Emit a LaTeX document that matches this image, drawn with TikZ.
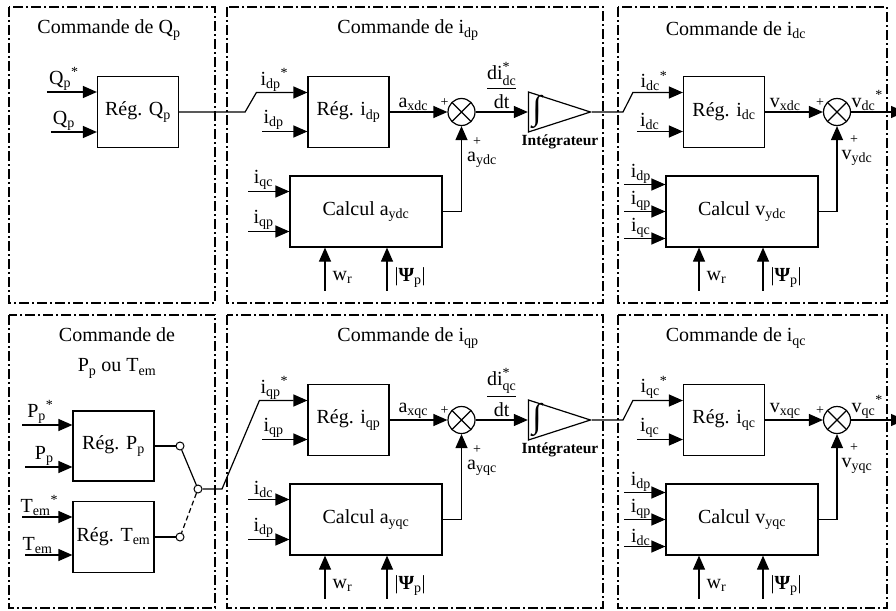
\documentclass[tikz,border=0pt]{standalone}
\usepackage{fontspec}
\setmainfont{Liberation Serif}
\usepackage{amsmath}
\usetikzlibrary{arrows.meta, positioning, calc, shapes.geometric}

\newcommand{\sbs}[1]{\textsubscript{#1}}
\newcommand{\sps}[1]{\textsuperscript{#1}}

\begin{document}
\begin{tikzpicture}[
    x=1pt, y=-1pt,
    font=\fontsize{20}{24}\selectfont,
    frame/.style={line width=1.2pt, dash pattern=on 10pt off 3pt on 2pt off 3pt},
    box/.style={draw, line width=1.2pt, inner sep=0pt, align=center},
    regbox/.style={box, minimum width=81pt, minimum height=71pt},
    calcbox/.style={box, minimum width=152pt, minimum height=71pt},
    sumnode/.style={draw, circle, line width=1.2pt, minimum size=27pt, inner sep=0pt,
      path picture={\draw[line width=1.2pt] (path picture bounding box.north west) -- (path picture bounding box.south east)
        (path picture bounding box.south west) -- (path picture bounding box.north east);}},
    integ/.style={draw, isosceles triangle, isosceles triangle stretches, minimum width=40pt, minimum height=62pt, inner sep=0pt, line width=1.2pt},
    pin/.style={draw, circle, fill=white, minimum size=8pt, inner sep=0pt, line width=1pt},
    lbl/.style={inner sep=0pt},
    sgn/.style={inner sep=0pt, font=\fontsize{14}{14}\selectfont},
    arrow/.style={-{Triangle[length=14pt, width=12pt]}, line width=1.2pt},
    wire/.style={line width=1.2pt}
  ]
  \useasboundingbox (0,0) rectangle (896,610);

  % cadres
  \foreach \ya/\yb in {7/303, 315/608} {
    \draw[frame] (9,\ya) rectangle (215,\yb);
    \draw[frame] (227,\ya) rectangle (603,\yb);
    \draw[frame] (618,\ya) rectangle (887,\yb);
  }

  % commandes des courants (ligne d puis ligne q)
  \foreach \dy/\rowm/\rowc/\inA/\inB/\inV in {0/dp/dc/qc/qp/qc, 308/qp/qc/dc/dp/dc} {
    \node[lbl] (tm-\rowm) at (408,{30+\dy}) {Commande de i\sbs{\rowm}};
    \node[regbox] (regm-\rowm) at (348.5,{112+\dy}) {Rég. i\sbs{\rowm}};
    \node[sumnode] (sa-\rowm) at (461.5,{112+\dy}) {};
    \node[calcbox] (ca-\rowm) at (366,{211.5+\dy}) {Calcul a\sbs{y\rowc}};
    \node[integ, anchor=apex] (int-\rowm) at (592,{112+\dy}) {};
    \node[lbl, font=\fontsize{34}{34}\selectfont] (isym-\rowm) at (537,{112+\dy}) {∫};
    \node[lbl, font=\bfseries\fontsize{15.5}{16}\selectfont] (ilab-\rowm) at (560,{142+\dy}) {Intégrateur};

    \node[lbl, above=1pt] (lm-\rowm) at ([shift={(-33pt,19.5pt)}]regm-\rowm.west) {i\sbs{\rowm}\sps{*}};
    \draw[arrow] ([shift={(-45pt,-19.5pt)}]regm-\rowm.west) -- ([yshift=-19.5pt]regm-\rowm.west)
      node[lbl, above=1pt, pos=.25] {i\sbs{\rowm}};
    \draw[arrow] (regm-\rowm) -- (sa-\rowm) node[lbl, above=1pt, pos=.41] {a\sbs{x\rowc}};
    \node[sgn] at ([shift={(-17pt,9pt)}]sa-\rowm.center) {+};
    \node[sgn] at ([shift={(15.5pt,-30pt)}]sa-\rowm.center) {+};
    \node[lbl] at ([shift={(20.5pt,-48pt)}]sa-\rowm.center) {a\sbs{y\rowc}};
    \draw[arrow] (ca-\rowm) -| (sa-\rowm);
    \draw[arrow] (sa-\rowm) -- (int-\rowm.lower side)
      node[lbl, above=3pt, midway] {$\dfrac{\text{di}^{\text{*}}_{\text{\rowc}}}{\text{dt}}$};

    \draw[arrow] ([shift={(-41pt,20pt)}]ca-\rowm.west) -- ([yshift=20pt]ca-\rowm.west)
      node[lbl, above=1pt, pos=.37] {i\sbs{\inA}};
    \draw[arrow] ([shift={(-41pt,-20pt)}]ca-\rowm.west) -- ([yshift=-20pt]ca-\rowm.west)
      node[lbl, above=1pt, pos=.37] {i\sbs{\inB}};
    \draw[arrow] ([shift={(-41pt,-43pt)}]ca-\rowm.south) -- ([xshift=-41pt]ca-\rowm.south)
      node[lbl, right=7pt, pos=.3] {w\sbs{r}};
    \draw[arrow] ([shift={(21pt,-43pt)}]ca-\rowm.south) -- ([xshift=21pt]ca-\rowm.south)
      node[lbl, right=7pt, pos=.3] {|\textbf{Ψ}\sbs{p}|};

    \node[lbl] (tc-\rowm) at (736,{30+\dy}) {Commande de i\sbs{\rowc}};
    \node[regbox] (regc-\rowm) at (724,{112+\dy}) {Rég. i\sbs{\rowc}};
    \node[sumnode] (sb-\rowm) at (837,{112+\dy}) {};
    \node[calcbox] (cv-\rowm) at (742,{211.5+\dy}) {Calcul v\sbs{y\rowc}};
    \coordinate (out-\rowm) at (905,{112+\dy});

    \draw[arrow] (int-\rowm.apex) -- ++(31,0) -- ([shift={(-50pt,19.5pt)}]regc-\rowm.west) -- ([yshift=19.5pt]regc-\rowm.west)
      node[lbl, above=1pt, pos=.42] {i\sbs{\rowc}\sps{*}};
    \draw[arrow] ([shift={(-46pt,-19.5pt)}]regc-\rowm.west) -- ([yshift=-19.5pt]regc-\rowm.west)
      node[lbl, above=1pt, pos=.28] {i\sbs{\rowc}};
    \draw[arrow] (regc-\rowm) -- (sb-\rowm) node[lbl, above=1pt, pos=.35] {v\sbs{x\rowc}};
    \node[sgn] at ([shift={(-17pt,9pt)}]sb-\rowm.center) {+};
    \node[sgn] at ([shift={(17pt,-28pt)}]sb-\rowm.center) {+};
    \node[lbl] at ([shift={(20pt,-46pt)}]sb-\rowm.center) {v\sbs{y\rowc}};
    \draw[arrow] (cv-\rowm) -| (sb-\rowm);
    \draw[arrow] (sb-\rowm) -- (out-\rowm) node[lbl, above=1pt, pos=.3] {v\sbs{\rowc}\sps{*}};

    \foreach \k/\nm in {27/dp, 0/qp, -27/\inV}
      \draw[arrow] ([shift={(-41pt,\k pt)}]cv-\rowm.west) -- ([yshift=\k pt]cv-\rowm.west)
        node[lbl, above=0pt, pos=.4] {i\sbs{\nm}};
    \draw[arrow] ([shift={(-43pt,-43pt)}]cv-\rowm.south) -- ([xshift=-43pt]cv-\rowm.south)
      node[lbl, right=7pt, pos=.3] {w\sbs{r}};
    \draw[arrow] ([shift={(21pt,-43pt)}]cv-\rowm.south) -- ([xshift=21pt]cv-\rowm.south)
      node[lbl, right=7pt, pos=.3] {|\textbf{Ψ}\sbs{p}|};
  }

  % commande de Q_p
  \node[lbl] (tQ) at (109,30) {Commande de Q\sbs{p}};
  \node[regbox] (regQ) at (138,112) {Rég. Q\sbs{p}};
  \draw[arrow] ([shift={(-50pt,20pt)}]regQ.west) -- ([yshift=20pt]regQ.west)
    node[lbl, above=1pt, pos=.34] {Q\sbs{p}\sps{*}};
  \draw[arrow] ([shift={(-46pt,-20pt)}]regQ.west) -- ([yshift=-20pt]regQ.west)
    node[lbl, above=1pt, pos=.28] {Q\sbs{p}};
  \draw[arrow] (regQ.east) -- ++(66,0) -- ([shift={(-51pt,19.5pt)}]regm-dp.west) -- ([yshift=19.5pt]regm-dp.west);

  % commande de P_p ou T_em
  \node[lbl, align=center, font=\fontsize{20}{30}\selectfont] (tP) at (117,353) {Commande de\\P\sbs{p} ou T\sbs{em}};
  \node[regbox, minimum height=70pt] (regP) at (113.5,446) {Rég. P\sbs{p}};
  \node[regbox] (regT) at (113.5,537) {Rég. T\sbs{em}};
  \draw[arrow] ([shift={(-50pt,21pt)}]regP.west) -- ([yshift=21pt]regP.west)
    node[lbl, above=1pt, pos=.36] {P\sbs{p}\sps{*}};
  \draw[arrow] ([shift={(-47pt,-21pt)}]regP.west) -- ([yshift=-21pt]regP.west)
    node[lbl, above=1pt, pos=.4] {P\sbs{p}};
  \draw[arrow] ([shift={(-50pt,20pt)}]regT.west) -- ([yshift=20pt]regT.west)
    node[lbl, above=1pt, pos=.34] {T\sbs{em}\sps{*}};
  \draw[arrow] ([shift={(-47pt,-18pt)}]regT.west) -- ([yshift=-18pt]regT.west)
    node[lbl, above=1pt, pos=.26] {T\sbs{em}};
  \node[pin] (pP) at (180,446) {};
  \node[pin] (pT) at (180,537) {};
  \node[pin] (piv) at (198,489) {};
  \draw[wire] (regP) -- (pP);
  \draw[wire] (regT) -- (pT);
  \draw[wire] (piv) -- (pP);
  \draw[wire, dash pattern=on 5pt off 3pt] (piv) -- (pT);
  \draw[arrow] (piv) -- ++(24,0) -- ([shift={(-48pt,19.5pt)}]regm-qp.west) -- ([yshift=19.5pt]regm-qp.west);
\end{tikzpicture}
\end{document}
